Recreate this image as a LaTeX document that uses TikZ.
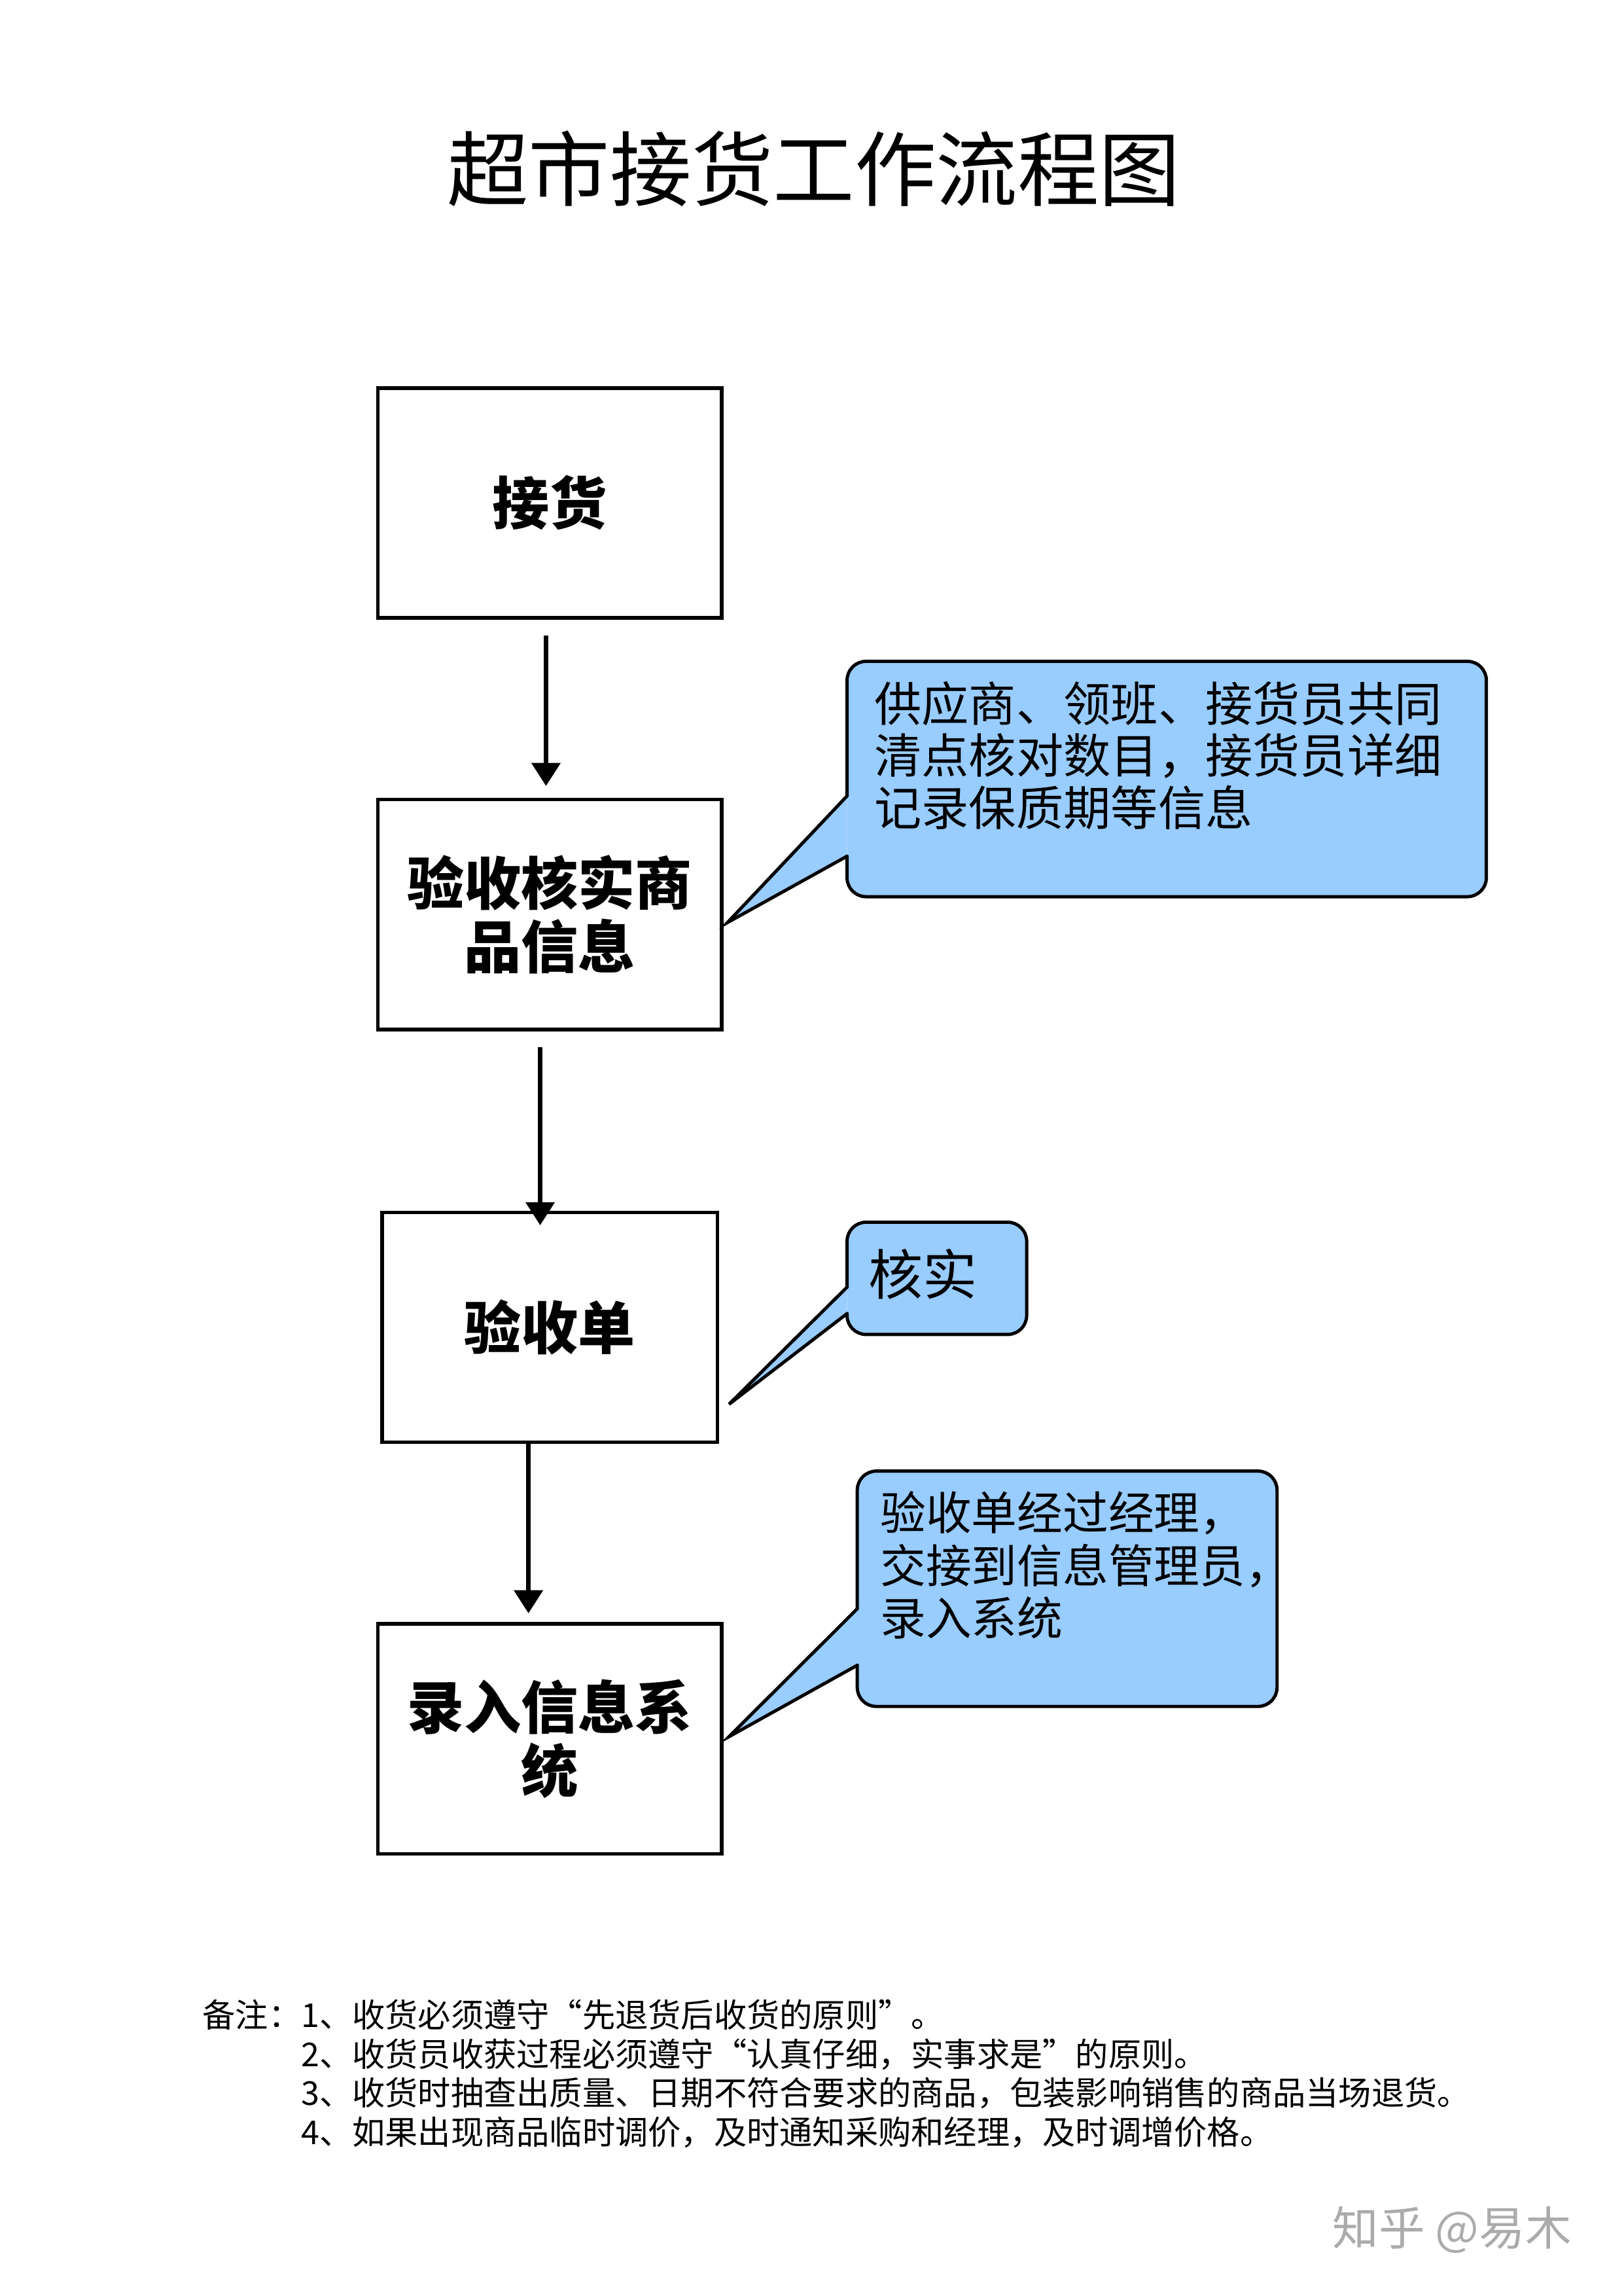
\documentclass[tikz,border=0pt]{standalone}
\usepackage{fontspec}
\newfontfamily\cjk{Noto Sans CJK SC}
\usetikzlibrary{arrows.meta,calc,backgrounds}
\definecolor{bubblefill}{HTML}{99CCFF}

\begin{document}
\begin{tikzpicture}[
      x=0.018936cm, y=-0.018936cm,
      heading/.style={font=\cjk\fontsize{30}{36}\selectfont},
      flowbox/.style={draw, line width=1.3pt, minimum width=126.6pt, minimum height=84.6pt,
        inner sep=0pt, align=center, font=\cjk\bfseries\fontsize{21}{23.2}\selectfont},
      flow/.style={line width=1.7pt, -{Triangle[length=8.5pt,width=10.4pt]}},
      bubble/.style={fill=bubblefill},
      bubbleline/.style={draw, line width=1.2pt, line cap=round},
      bubblearea/.style={inner sep=0pt},
      bubbletext/.style={inner sep=0pt, anchor=north west, align=left,
        font=\cjk\fontsize{17.4}{19.1}\selectfont},
      remark/.style={inner sep=0pt, anchor=north west, align=left,
        font=\cjk\fontsize{12.1}{14.4}\selectfont},
      watermark/.style={text=black!33, font=\cjk\fontsize{17}{20}\selectfont},
  ]
    \useasboundingbox (0,0) rectangle (1109,1568);

    \node[heading] (title) at (556,115) {超市接货工作流程图};

    \node[flowbox] (b1) at (375.5,343.5) {接货};
    \node[flowbox] (b2) at (375.5,624.5) {验收核实商\\品信息};
    \node[flowbox, minimum width=123.4pt] (b3) at (375.5,906.5) {验收单};
    \node[flowbox] (b4) at (375.5,1187.5) {录入信息系\\统};

    \draw[flow] ([shift={(-2.5,11)}]b1.south) -- ([shift={(-2.5,-8)}]b2.north);
    \draw[flow] ([shift={(-6.5,11)}]b2.south) -- ([shift={(-6.5,10)}]b3.north);
    \draw[flow] ([shift={(-14.5,0)}]b3.south) -- ([shift={(-14.5,-6)}]b4.north);

    \node[bubblearea, minimum width=234.9pt, minimum height=86.2pt] (c1) at (797,532) {};
    \coordinate (p1) at (497,630);
    \coordinate (u1) at ($(c1.north west)!0.572!(c1.south west)$);
    \coordinate (l1) at ($(c1.north west)!0.828!(c1.south west)$);
    \node[bubbletext] (t1) at (597,465) {供应商、领班、接货员共同\\清点核对数目，接货员详细\\记录保质期等信息};

    \node[bubblearea, minimum width=65.7pt, minimum height=40.9pt] (c2) at (640,873) {};
    \coordinate (p2) at (498,959);
    \coordinate (u2) at ($(c2.north west)!0.578!(c2.south west)$);
    \coordinate (l2) at ($(c2.north west)!0.814!(c2.south west)$);
    \node[bubbletext, anchor=west, font=\cjk\fontsize{20}{24}\selectfont] (t2) at (593,870) {核实};

    \node[bubblearea, minimum width=154.1pt, minimum height=86.2pt] (c3) at (729,1085) {};
    \coordinate (p3) at (498,1186);
    \coordinate (u3) at ($(c3.north west)!0.585!(c3.south west)$);
    \coordinate (l3) at ($(c3.north west)!0.825!(c3.south west)$);
    \node[bubbletext, font=\cjk\fontsize{16.8}{19.4}\selectfont] (t3) at (601,1018) {验收单经过经理，\\交接到信息管理员，\\录入系统};

    \begin{scope}[on background layer]
      \fill[bubble, rounded corners=7pt] (c1.north west) rectangle (c1.south east);
      \fill[bubble] (u1) -- (p1) -- (l1) -- cycle;
      \draw[bubbleline] (u1) -- (p1) -- (l1);
      \draw[bubbleline, rounded corners=7pt] (l1) -- (c1.south west) -- (c1.south east)
        -- (c1.north east) -- (c1.north west) -- (u1);

      \fill[bubble, rounded corners=7pt] (c2.north west) rectangle (c2.south east);
      \fill[bubble] (u2) -- (p2) -- (l2) -- cycle;
      \draw[bubbleline] (u2) -- (p2) -- (l2);
      \draw[bubbleline, rounded corners=7pt] (l2) -- (c2.south west) -- (c2.south east)
        -- (c2.north east) -- (c2.north west) -- (u2);

      \fill[bubble, rounded corners=7pt] (c3.north west) rectangle (c3.south east);
      \fill[bubble] (u3) -- (p3) -- (l3) -- cycle;
      \draw[bubbleline] (u3) -- (p3) -- (l3);
      \draw[bubbleline, rounded corners=7pt] (l3) -- (c3.south west) -- (c3.south east)
        -- (c3.north east) -- (c3.north west) -- (u3);
    \end{scope}

    \node[remark] (notes) at (138,1365) {备注：1、收货必须遵守“先退货后收货的原则”。\\
      \phantom{备注：}2、收货员收获过程必须遵守“认真仔细，实事求是”的原则。\\
      \phantom{备注：}3、收货时抽查出质量、日期不符合要求的商品，包装影响销售的商品当场退货。\\
      \phantom{备注：}4、如果出现商品临时调价，及时通知采购和经理，及时调增价格。};

    \node[watermark] (zhihu) at (992,1523) {知乎 @易木};
  \end{tikzpicture}
\end{document}
